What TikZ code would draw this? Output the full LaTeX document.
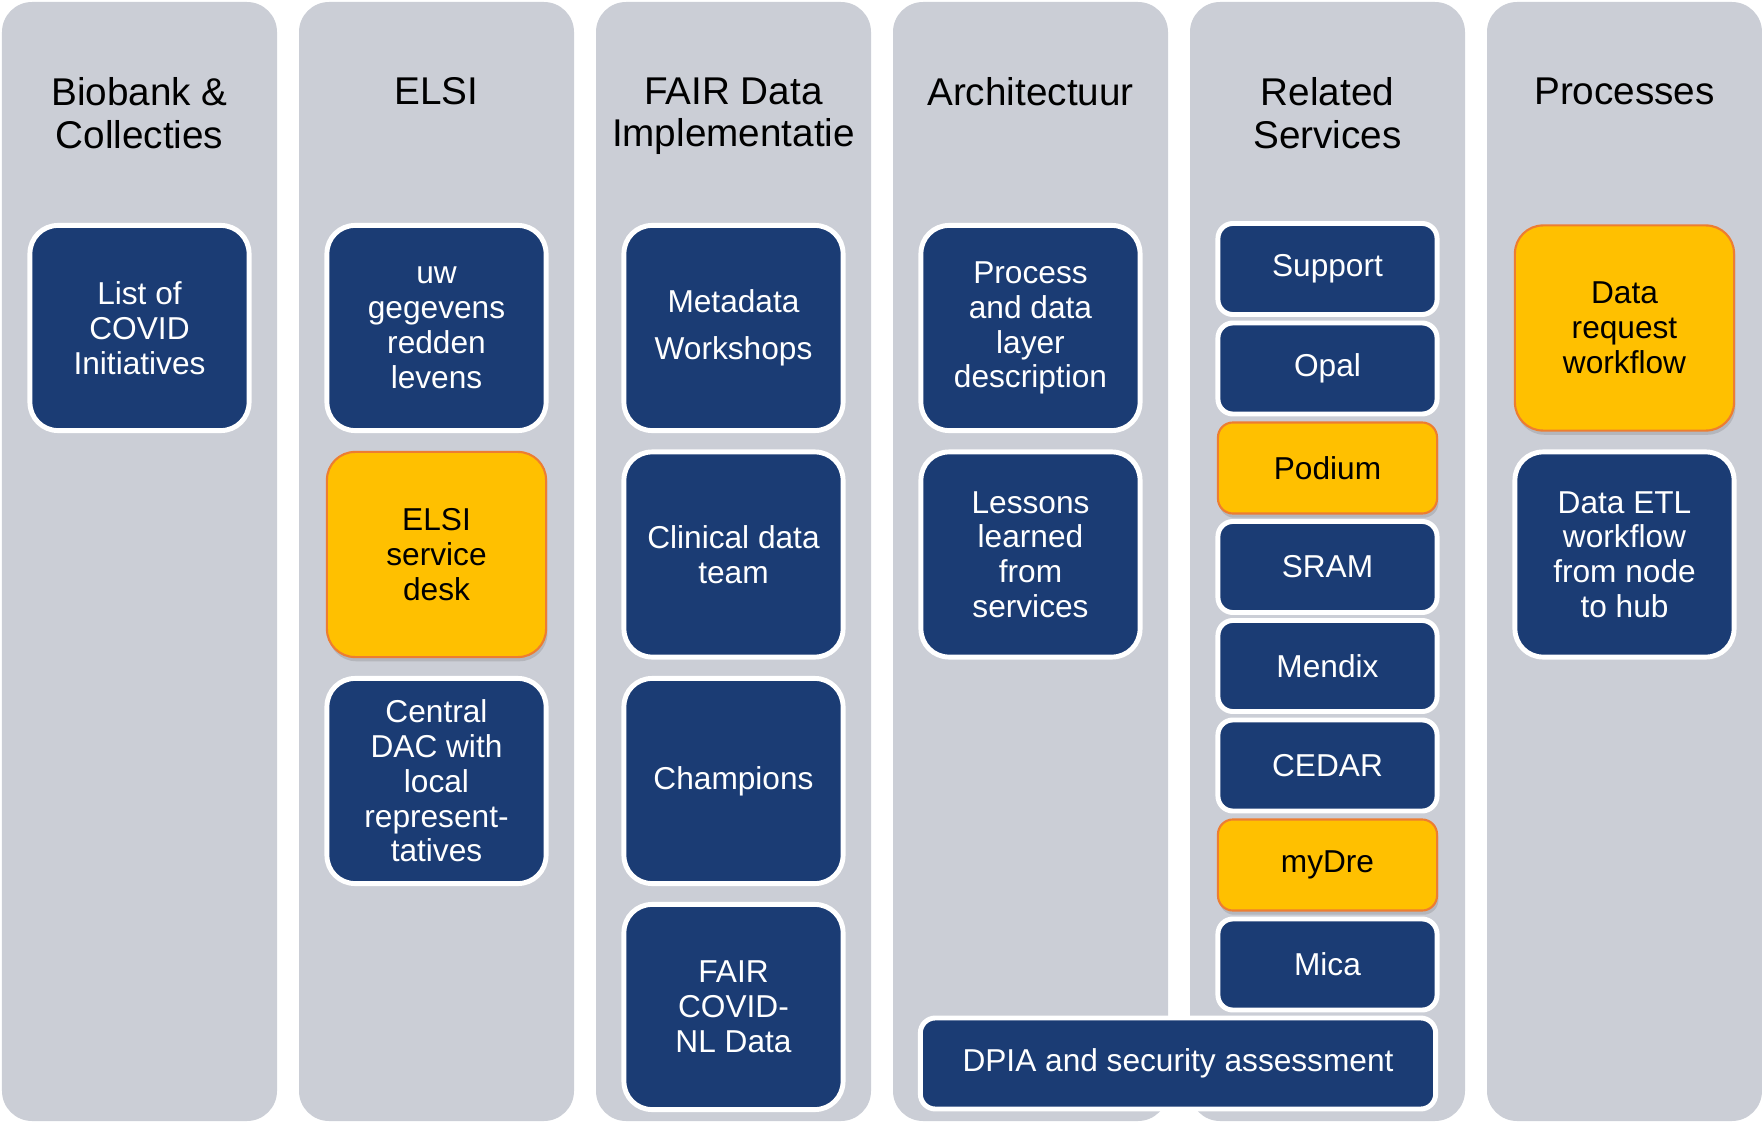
\documentclass[tikz,border=0pt]{standalone}
\usepackage{fontspec}
\setmainfont{Liberation Sans}
\usetikzlibrary{shadows}
\definecolor{lanegray}{RGB}{203,206,214}
\definecolor{boxblue}{RGB}{27,60,116}
\definecolor{boxyellow}{RGB}{255,192,0}
\definecolor{boxorange}{RGB}{237,125,49}

\begin{document}
\begin{tikzpicture}[x=0.01cm, y=-0.01cm,
  lane/.style={fill=lanegray, rounded corners=0.3cm},
  head/.style={align=center, anchor=north, inner sep=0pt, font=\fontsize{11}{12.1}\selectfont},
  bigbox/.style={draw=white, line width=1.4pt, fill=boxblue, text=white, rounded corners=0.28cm,
    minimum width=2.19cm, minimum height=2.05cm, inner sep=0pt, align=center,
    font=\fontsize{9}{9.9}\selectfont},
  smallbox/.style={bigbox, rounded corners=0.15cm, minimum height=0.91cm},
  hot/.style={draw=boxorange, line width=0.6pt, fill=boxyellow, text=black,
    drop shadow={shadow xshift=0.4pt, shadow yshift=-1.2pt, opacity=0.3}}]
\useasboundingbox (0,0) rectangle (1762,1124);

% lanes
\fill[lane] (2,2) rectangle (277,1121);
\fill[lane] (299,2) rectangle (574,1121);
\fill[lane] (596,2) rectangle (871,1121);
\fill[lane] (893,2) rectangle (1168,1121);
\fill[lane] (1190,2) rectangle (1465,1121);
\fill[lane] (1487,2) rectangle (1762,1121);

% headings
\node[head] (t-bio) at (139.5,77) {Biobank \&\\Collecties};
\node[head] (t-elsi) at (436.5,77) {ELSI};
\node[head] (t-fair) at (733.5,77) {FAIR Data\\Implementatie};
\node[head] (t-arch) at (1030.5,77) {Architectuur};
\node[head] (t-rel) at (1327.5,77) {Related\\Services};
\node[head] (t-proc) at (1624.5,77) {Processes};

% Biobank & ELSI
\node[bigbox] (covid) at (139.5,328) {List of\\COVID\\Initiatives};
\node[bigbox] (uwgeg) at (436.5,328) {uw\\gegevens\\redden\\levens};
\node[bigbox, hot] (elsidesk) at (436.5,554.5) {ELSI\\service\\desk};
\node[bigbox] (dac) at (436.5,781) {Central\\DAC with\\local\\represent-\\tatives};

% FAIR
\node[bigbox] (meta) at (733.5,328) {Metadata\\[3.5pt]Workshops};
\node[bigbox] (clin) at (733.5,554.5) {Clinical data\\team};
\node[bigbox] (champ) at (733.5,781) {Champions};
\node[bigbox] (fairdata) at (733.5,1007) {FAIR\\COVID-\\NL Data};

% Architectuur
\node[bigbox] (layer) at (1030.5,328) {Process\\and data\\layer\\description};
\node[bigbox] (lessons) at (1030.5,554.5) {Lessons\\learned\\from\\services};
\node[smallbox, minimum width=5.15cm] (dpia) at (1178,1063.5) {DPIA and security assessment};

% Related services
\node[smallbox] (support) at (1327.5,269) {Support};
\node[smallbox] (opal) at (1327.5,368.5) {Opal};
\node[smallbox, hot] (podium) at (1327.5,468) {Podium};
\node[smallbox] (sram) at (1327.5,567) {SRAM};
\node[smallbox] (mendix) at (1327.5,666) {Mendix};
\node[smallbox] (cedar) at (1327.5,765.5) {CEDAR};
\node[smallbox, hot] (mydre) at (1327.5,865) {myDre};
\node[smallbox] (mica) at (1327.5,964.5) {Mica};

% Processes
\node[bigbox, hot] (request) at (1624.5,328) {Data\\request\\workflow};
\node[bigbox] (etl) at (1624.5,554.5) {Data ETL\\workflow\\from node\\to hub};

\end{tikzpicture}
\end{document}
